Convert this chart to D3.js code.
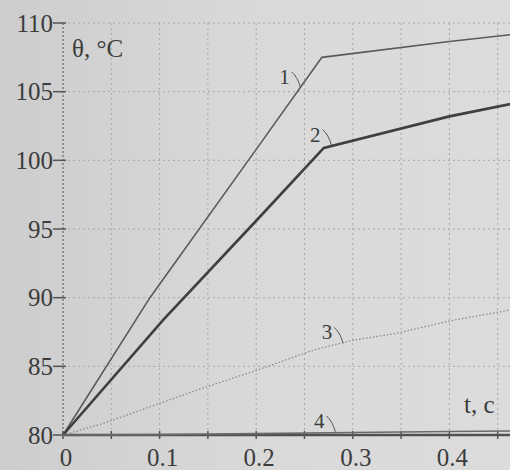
<!DOCTYPE html>
<html>
<head>
<meta charset="utf-8">
<script src="https://cdn.jsdelivr.net/npm/d3@7"></script>
<style>
  html, body { margin: 0; padding: 0; }
  body { width: 510px; height: 470px; overflow: hidden; }
  svg { display: block; }
</style>
</head>
<body>
<div id="chart"></div>
<script>
// Data
const t1 = [0, 0.09, 0.2, 0.268, 0.4, 0.47];
const theta1 = [80, 90, 100.8, 107.5, 108.65, 109.2];

const t2 = [0, 0.104, 0.2, 0.27, 0.4, 0.47];
const theta2 = [80, 88.4, 95.6, 100.9, 103.2, 104.2];

const t3 = [0, 0.04, 0.1, 0.14, 0.2, 0.26, 0.3, 0.345, 0.4, 0.47];
const theta3 = [80, 80.8, 82.3, 83.3, 84.7, 86.2, 86.9, 87.4, 88.3, 89.2];

const t4 = [0, 0.1, 0.2, 0.3, 0.4, 0.47];
const theta4 = [80, 80.03, 80.1, 80.18, 80.25, 80.3];

const xTicks = [0, 0.1, 0.2, 0.3, 0.4];
const xGrid = [0, 0.05, 0.1, 0.15, 0.2, 0.25, 0.3, 0.35, 0.4, 0.45];
const yTicks = [80, 85, 90, 95, 100, 105, 110];

// curve labels: [name, t, theta] where the leader touches the curve
const curveLabels = [['1', 0.246, 105.2], ['2', 0.278, 101.0], ['3', 0.29, 86.6], ['4', 0.282, 80.15]];

const width = 510;
const height = 470;

const svg = d3.select('#chart')
  .append('svg')
  .attr('width', width)
  .attr('height', height);

// paper background
const defs = svg.append('defs');
const grad = defs.append('linearGradient')
  .attr('id', 'paper')
  .attr('x1', 0).attr('x2', 1).attr('y1', 0).attr('y2', 0);
grad.append('stop').attr('offset', '0%').attr('stop-color', '#cdcdcd');
grad.append('stop').attr('offset', '50%').attr('stop-color', '#d9d9d9');
grad.append('stop').attr('offset', '100%').attr('stop-color', '#dcdcdc');

svg.append('rect')
  .attr('width', width)
  .attr('height', height)
  .attr('fill', 'url(#paper)');

const x = d3.scaleLinear().domain([0, 0.5]).range([63, 546]);
const y = d3.scaleLinear().domain([80, 110]).range([435, 23]);

// grid
svg.selectAll('.vgrid')
  .data(xGrid.slice(1))
  .enter().append('line')
  .attr('class', 'vgrid')
  .attr('x1', d => x(d)).attr('x2', d => x(d))
  .attr('y1', y(110)).attr('y2', y(80))
  .attr('stroke', '#a8a8a8')
  .attr('stroke-width', 1)
  .attr('stroke-dasharray', '2,3');

svg.selectAll('.hgrid')
  .data(yTicks.slice(1))
  .enter().append('line')
  .attr('class', 'hgrid')
  .attr('x1', x(0)).attr('x2', width)
  .attr('y1', d => y(d)).attr('y2', d => y(d))
  .attr('stroke', '#a8a8a8')
  .attr('stroke-width', 1)
  .attr('stroke-dasharray', '2,3');

// y axis (dotted, darker)
svg.append('line')
  .attr('x1', x(0)).attr('x2', x(0))
  .attr('y1', y(110)).attr('y2', y(80))
  .attr('stroke', '#666')
  .attr('stroke-width', 1.2)
  .attr('stroke-dasharray', '2,2');

svg.selectAll('.ytick')
  .data(yTicks)
  .enter().append('line')
  .attr('class', 'ytick')
  .attr('x1', x(0) - 10).attr('x2', x(0) + 3)
  .attr('y1', d => y(d)).attr('y2', d => y(d))
  .attr('stroke', '#555')
  .attr('stroke-width', 1.5);

svg.selectAll('.ylabel')
  .data(yTicks)
  .enter().append('text')
  .attr('class', 'ylabel')
  .attr('x', x(0) - 10)
  .attr('y', d => y(d))
  .attr('dy', '0.35em')
  .attr('text-anchor', 'end')
  .attr('font-family', '"Liberation Serif", "Times New Roman", serif')
  .attr('font-size', 25)
  .attr('fill', '#3c3c3c')
  .text(d => d);

// x axis
svg.append('line')
  .attr('x1', x(0)).attr('x2', width)
  .attr('y1', y(80)).attr('y2', y(80))
  .attr('stroke', '#505050')
  .attr('stroke-width', 2.5);

svg.selectAll('.xtick')
  .data(xGrid)
  .enter().append('line')
  .attr('class', 'xtick')
  .attr('x1', d => x(d)).attr('x2', d => x(d))
  .attr('y1', y(80) - 4).attr('y2', y(80) + 4)
  .attr('stroke', '#555')
  .attr('stroke-width', 1.5);

svg.selectAll('.xlabel')
  .data(xTicks)
  .enter().append('text')
  .attr('class', 'xlabel')
  .attr('x', d => x(d) + 3)
  .attr('y', 466)
  .attr('text-anchor', 'middle')
  .attr('font-family', '"Liberation Serif", "Times New Roman", serif')
  .attr('font-size', 25)
  .attr('fill', '#3c3c3c')
  .text(d => d);

// axis titles
svg.append('text')
  .attr('x', 72)
  .attr('y', 57)
  .attr('font-family', '"Liberation Serif", "Times New Roman", serif')
  .attr('font-size', 25)
  .attr('fill', '#3c3c3c')
  .text('θ, °C');

svg.append('text')
  .attr('x', 464)
  .attr('y', 413)
  .attr('font-family', '"Liberation Serif", "Times New Roman", serif')
  .attr('font-size', 25)
  .attr('fill', '#3c3c3c')
  .text('t, c');

// curves
const line = d3.line()
  .x(d => x(d[0]))
  .y(d => y(d[1]));

const series = [
  { t: t1, v: theta1, color: '#5a5a5a', w: 1.6, dash: null },
  { t: t2, v: theta2, color: '#3f3f3f', w: 2.6, dash: null },
  { t: t3, v: theta3, color: '#8a8a8a', w: 1.3, dash: '1.5,2' },
  { t: t4, v: theta4, color: '#6a6a6a', w: 1.6, dash: null }
];

svg.selectAll('.curve')
  .data(series)
  .enter().append('path')
  .attr('class', 'curve')
  .attr('d', s => line(s.t.map((t, i) => [t, s.v[i]])))
  .attr('fill', 'none')
  .attr('stroke', s => s.color)
  .attr('stroke-width', s => s.w)
  .attr('stroke-dasharray', s => s.dash);

// curve number labels with small leaders
const lbl = svg.selectAll('.clabel')
  .data(curveLabels)
  .enter().append('g')
  .attr('class', 'clabel');

lbl.append('path')
  .attr('d', d => {
    const px = x(d[1]), py = y(d[2]);
    return `M${px - 9},${py - 17} Q${px - 3},${py - 12} ${px},${py - 1}`;
  })
  .attr('fill', 'none')
  .attr('stroke', '#555')
  .attr('stroke-width', 1);

lbl.append('text')
  .attr('x', d => x(d[1]) - 11)
  .attr('y', d => y(d[2]) - 5)
  .attr('text-anchor', 'end')
  .attr('font-family', '"Liberation Serif", "Times New Roman", serif')
  .attr('font-size', 21)
  .attr('fill', '#3c3c3c')
  .text(d => d[0]);
</script>
</body>
</html>
